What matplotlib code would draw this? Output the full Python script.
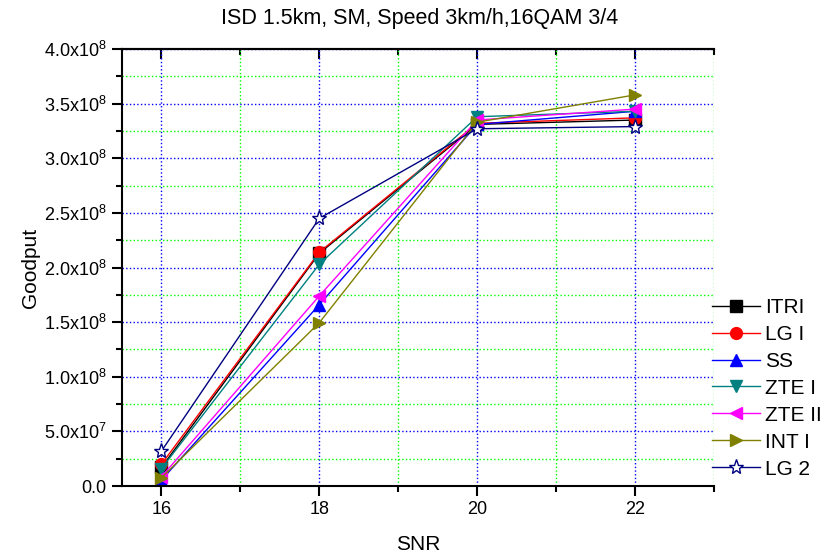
import numpy as np
import matplotlib
matplotlib.use("Agg")
import matplotlib.pyplot as plt
from matplotlib.ticker import MultipleLocator, FuncFormatter

plt.rcParams['font.family'] = ['Liberation Sans', 'DejaVu Sans']
plt.rcParams['mathtext.fontset'] = 'custom'
plt.rcParams['mathtext.rm'] = 'Liberation Sans'
plt.rcParams['mathtext.it'] = 'Liberation Sans:italic'

snr = [16, 18, 20, 22]
itri = [1.7e7, 2.13e8, 3.31e8, 3.35e8]
lg1 = [2.0e7, 2.14e8, 3.32e8, 3.37e8]
ss = [5.5e6, 1.66e8, 3.31e8, 3.43e8]
zte1 = [1.6e7, 2.03e8, 3.38e8, 3.43e8]
zte2 = [8.5e6, 1.74e8, 3.35e8, 3.45e8]
int1 = [7.5e6, 1.495e8, 3.33e8, 3.58e8]
lg2 = [3.2e7, 2.45e8, 3.27e8, 3.29e8]

series = [
    ("ITRI", itri, "black", "s"),
    ("LG I", lg1, "red", "o"),
    ("SS", ss, "blue", "^"),
    ("ZTE I", zte1, "#008080", "v"),
    ("ZTE II", zte2, "magenta", "<"),
    ("INT I", int1, "#808000", ">"),
    ("LG 2", lg2, "#000080", "*"),
]

fig = plt.figure(figsize=(8.39, 5.55), dpi=100)
ax = fig.add_axes([0.1454, 0.1243, 0.851 - 0.1454, 0.9117 - 0.1243])

for name, vals, col, mk in series:
    if mk == "*":
        ax.plot(snr, vals, color=col, marker=mk, markersize=11, markerfacecolor="white",
                markeredgecolor=col, markeredgewidth=1, linewidth=1, label=name)
    else:
        ax.plot(snr, vals, color=col, marker=mk, markersize=8.5, linewidth=1, label=name)

ax.set_xlim(15.5, 23)
ax.set_ylim(0, 4.0e8)
ax.xaxis.set_major_locator(MultipleLocator(2))
ax.xaxis.set_minor_locator(MultipleLocator(1))
ax.yaxis.set_major_locator(MultipleLocator(0.5e8))
ax.yaxis.set_minor_locator(MultipleLocator(0.25e8))


def yfmt(v, pos):
    if abs(v) < 1:
        return "0.0"
    if v < 0:
        return ""
    e = int(np.floor(np.log10(v)))
    m = v / 10 ** e
    return f"{m:.1f}x10$^{{{e}}}$"


ax.yaxis.set_major_formatter(FuncFormatter(yfmt))

ax.grid(which="major", color="blue", linestyle=":", linewidth=1)
ax.grid(which="minor", color="#00ff00", linestyle=":", linewidth=1)
ax.set_axisbelow(True)

ax.spines["right"].set_visible(False)
ax.spines["top"].set_linewidth(1.5)
ax.spines["left"].set_linewidth(1.5)
ax.spines["bottom"].set_linewidth(1.5)
ax.tick_params(which="major", direction="out", length=7, width=1.5, labelsize=13, pad=4)
ax.tick_params(which="minor", direction="out", length=4, width=1.5)
ax.tick_params(right=False, which="both")

top = ax.secondary_xaxis("top")
top.xaxis.set_major_locator(MultipleLocator(2))
top.xaxis.set_minor_locator(MultipleLocator(1))
top.tick_params(which="major", direction="in", length=7, width=1.5, labeltop=False)
top.tick_params(which="minor", direction="in", length=4, width=1.5)
top.spines["top"].set_linewidth(1.5)

ax.set_xlabel("SNR", fontsize=15, labelpad=12)
ax.set_ylabel("Goodput", fontsize=15, labelpad=3)
fig.suptitle("ISD 1.5km, SM, Speed 3km/h,16QAM 3/4", fontsize=15.5, y=0.985)

leg = ax.legend(loc="upper left", bbox_to_anchor=(0.8486, 0.463), bbox_transform=fig.transFigure,
                frameon=False, fontsize=15, borderpad=0, borderaxespad=0,
                handlelength=2.3, handletextpad=0.25, labelspacing=0.38)

fig.savefig("out.png", dpi=100)
